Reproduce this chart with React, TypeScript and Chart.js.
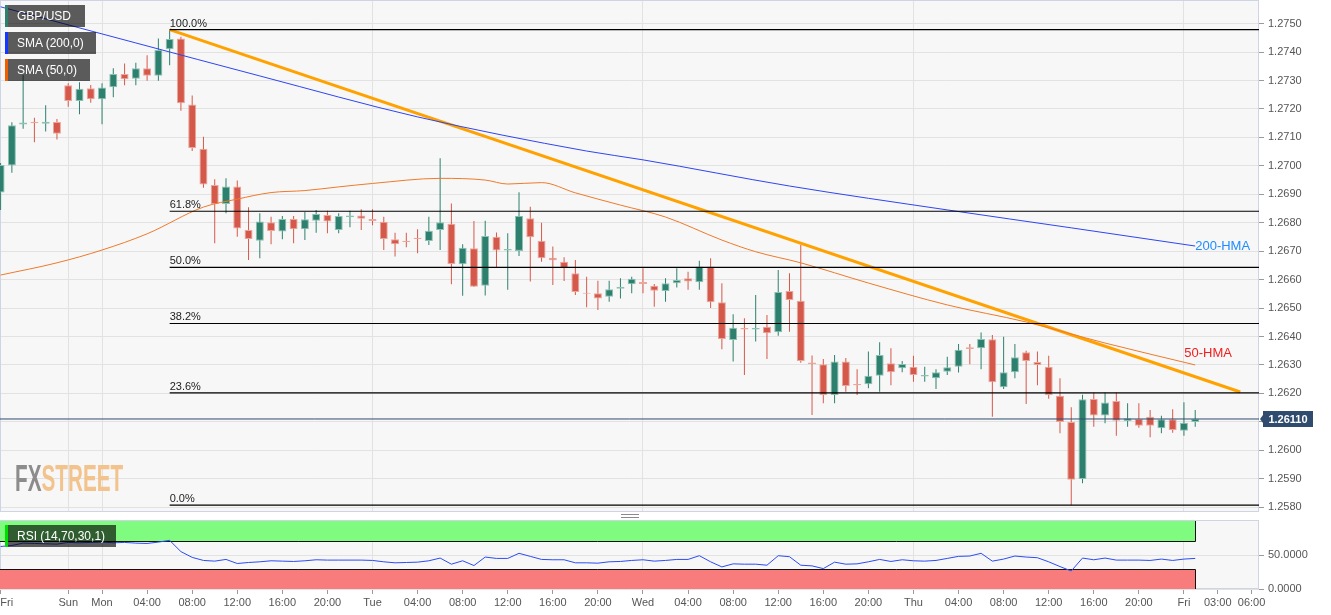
import React, { useEffect, useRef } from "react";
import { Chart, registerables } from "chart.js";

Chart.register(...registerables);
Chart.defaults.font.family = "'Liberation Sans', Arial, sans-serif";
Chart.defaults.font.size = 11;
Chart.defaults.color = "#555";

// ---------------- data ----------------
const symbol = "GBP/USD";

const opens = [
  1.26906, 1.27001, 1.27145, 1.27155, 1.27148, 1.27154, 1.27283, 1.27228, 1.27273, 1.27234,
  1.27276, 1.27323, 1.27306, 1.27343, 1.27317, 1.2741, 1.27448, 1.27216, 1.2706, 1.26933,
  1.26866, 1.26927, 1.26774, 1.26737, 1.26802, 1.26769, 1.26813, 1.26777, 1.26807, 1.26827,
  1.26774, 1.2682, 1.26825, 1.26813, 1.26803, 1.26742, 1.26737, 1.26747, 1.26736, 1.26774,
  1.26796, 1.26654, 1.2671, 1.26578, 1.26751, 1.26702, 1.26701, 1.26816, 1.26737, 1.26677,
  1.26663, 1.26622, 1.26554, 1.26552, 1.2654, 1.26568, 1.26584, 1.26592, 1.26578, 1.2656,
  1.26587, 1.26605, 1.26591, 1.26646, 1.2652, 1.26388, 1.2643, 1.26425, 1.26434, 1.26415,
  1.2656, 1.26526, 1.26309, 1.26302, 1.26194, 1.26312, 1.26233, 1.26232, 1.26262, 1.26306,
  1.26288, 1.26294, 1.26259, 1.26253, 1.26276, 1.26294, 1.26362, 1.26359, 1.2639, 1.26222,
  1.26274, 1.26345, 1.2631, 1.26294, 1.26192, 1.26099, 1.25899, 1.2618, 1.26122, 1.26173,
  1.26103, 1.2611, 1.26118, 1.26077, 1.26109, 1.26069, 1.26099,
];
const highs = [
  1.2701, 1.27153, 1.27319, 1.27169, 1.27213, 1.27165, 1.2729, 1.27294, 1.27284, 1.2729,
  1.27343, 1.2736, 1.27362, 1.27389, 1.27448, 1.27479, 1.27454, 1.27247, 1.27102, 1.26953,
  1.26956, 1.26948, 1.26854, 1.26833, 1.26821, 1.26824, 1.26824, 1.26838, 1.26845, 1.26842,
  1.26833, 1.26842, 1.26847, 1.26847, 1.26821, 1.26765, 1.26765, 1.26777, 1.26821, 1.27027,
  1.26868, 1.26724, 1.26806, 1.26807, 1.26766, 1.26763, 1.26907, 1.26856, 1.268, 1.26716,
  1.26679, 1.26669, 1.2661, 1.26596, 1.26596, 1.26605, 1.2661, 1.2664, 1.26585, 1.26605,
  1.2664, 1.26628, 1.26666, 1.26675, 1.26587, 1.26478, 1.26464, 1.26546, 1.26476, 1.26634,
  1.26622, 1.26722, 1.26333, 1.26321, 1.26335, 1.26324, 1.26285, 1.26347, 1.2638, 1.26359,
  1.26314, 1.26332, 1.26294, 1.26285, 1.26329, 1.26374, 1.26374, 1.26414, 1.26405, 1.26399,
  1.26374, 1.2635, 1.26347, 1.26332, 1.26253, 1.26151, 1.26195, 1.26203, 1.26203, 1.26203,
  1.26165, 1.26165, 1.26142, 1.26121, 1.26144, 1.26169, 1.26142,
];
const lows = [
  1.26845, 1.26976, 1.2713, 1.27083, 1.27121, 1.27093, 1.27208, 1.27181, 1.27222, 1.27146,
  1.27241, 1.27283, 1.27283, 1.27299, 1.27299, 1.27354, 1.27194, 1.27052, 1.26923, 1.26728,
  1.26833, 1.26751, 1.26669, 1.26675, 1.26724, 1.26742, 1.26728, 1.26739, 1.26765, 1.26763,
  1.26763, 1.26784, 1.26774, 1.26791, 1.26704, 1.26681, 1.26714, 1.26693, 1.26722, 1.26704,
  1.26584, 1.26543, 1.26574, 1.26544, 1.26643, 1.26564, 1.26683, 1.26593, 1.26663, 1.26581,
  1.26595, 1.26546, 1.26503, 1.26493, 1.26522, 1.26534, 1.26552, 1.26552, 1.26505, 1.26522,
  1.26572, 1.26564, 1.26564, 1.265, 1.26355, 1.26312, 1.26265, 1.26382, 1.26321, 1.26403,
  1.26417, 1.26308, 1.26124, 1.26165, 1.26165, 1.26206, 1.26194, 1.26218, 1.26206, 1.26229,
  1.26274, 1.26241, 1.26241, 1.26215, 1.26265, 1.26273, 1.26302, 1.26285, 1.26118, 1.26215,
  1.26253, 1.26163, 1.26229, 1.26181, 1.2606, 1.25807, 1.25884, 1.26083, 1.26095, 1.26051,
  1.26083, 1.26079, 1.26046, 1.2606, 1.26062, 1.26051, 1.26083,
];
const closes = [
  1.27003, 1.27143, 1.27152, 1.2715, 1.27155, 1.27113, 1.27228, 1.27271, 1.27234, 1.27275,
  1.27323, 1.27304, 1.27343, 1.27317, 1.27407, 1.27446, 1.2722, 1.27063, 1.26934, 1.26866,
  1.26927, 1.2678, 1.26743, 1.26804, 1.26771, 1.26813, 1.26777, 1.26812, 1.26831, 1.26804,
  1.26824, 1.26825, 1.26814, 1.26806, 1.26743, 1.26724, 1.26732, 1.26743, 1.26772, 1.26802,
  1.26655, 1.26712, 1.26575, 1.26753, 1.26702, 1.26708, 1.26824, 1.26749, 1.26675, 1.26668,
  1.2664, 1.26556, 1.2655, 1.26534, 1.26566, 1.26575, 1.26603, 1.26585, 1.26561, 1.26587,
  1.26599, 1.26593, 1.26646, 1.2652, 1.26391, 1.26431, 1.26425, 1.2643, 1.26411, 1.26556,
  1.26528, 1.26314, 1.26303, 1.26194, 1.26312, 1.26226, 1.26229, 1.26262, 1.26335, 1.26274,
  1.26303, 1.26265, 1.26265, 1.26274, 1.26292, 1.26353, 1.26356, 1.26391, 1.26239, 1.26274,
  1.26327, 1.26314, 1.263, 1.26194, 1.26099, 1.25896, 1.26179, 1.26122, 1.26168, 1.26104,
  1.26113, 1.26086, 1.26086, 1.26109, 1.26071, 1.26097, 1.2611,
];

// 200-HMA (blue) read at candle indices
const hma200Idx = [0, 12, 23, 37, 52, 57, 70, 84, 95, 106];
const hma200 = [1.27559, 1.27432, 1.27316, 1.27172, 1.27052, 1.27021, 1.26929, 1.26845, 1.26782, 1.26718];

// 50-HMA (thin orange) read at candle indices
const hma50Idx = [0, 5, 9, 13, 18, 21, 24, 27, 30, 33, 39, 43, 45, 48, 51, 55, 59, 64, 67, 71, 77, 84, 91, 98, 106];
const hma50 = [
  1.26616, 1.26659, 1.26704, 1.26761, 1.26855, 1.26883, 1.26906, 1.26913, 1.26926, 1.26938,
  1.26956, 1.2695, 1.26936, 1.26941, 1.26905, 1.26862, 1.2682, 1.26739, 1.26698, 1.26659,
  1.26588, 1.26511, 1.26451, 1.26377, 1.263,
];

// descending trend line (thick orange)
const trendIdx = [15, 110];
const trendVals = [1.27479, 1.26205];

const fibRatios = [1, 0.618, 0.5, 0.382, 0.236, 0];

const rsi = [
  62.5, 64, 67.5, 67, 66.5, 66, 68.5, 68, 68.5, 69,
  68, 68.5, 67.5, 67, 69, 71.5, 55, 46.5, 42, 41,
  43.5, 37.5, 39, 40, 41.5, 41, 40.5, 41.5, 43, 42.5,
  42.5, 42.5, 42.5, 42, 40, 38.5, 39, 39.5, 41.5, 45.5,
  36.5, 41.5, 34.5, 47, 45, 45, 52.5, 48, 43.5, 43,
  43, 38.5, 38.5, 38, 40, 40.5, 42, 43, 41, 42,
  43.5, 43.5, 49, 40, 32.5, 37, 36.5, 36.5, 35, 49,
  47.5, 35, 34, 30, 39.5, 36.5, 37, 40, 43.5, 40.5,
  43, 41.5, 41, 42, 45, 48, 48.5, 52.5, 41, 44,
  48.5, 47, 46, 40, 33, 26.5, 45.5, 43, 45.5, 42.5,
  42.5, 42.5, 42, 44, 42, 44, 45,
];
const rsiOversold = 30;
const rsiOverbought = 70;
const rsiTicks = [0, 50];

const priceTicks = [
  1.258, 1.259, 1.26, 1.261, 1.262, 1.263, 1.264, 1.265, 1.266,
  1.267, 1.268, 1.269, 1.27, 1.271, 1.272, 1.273, 1.274, 1.275,
];
const xTickIdx = [0, 6, 9, 13, 17, 21, 25, 29, 33, 37, 41, 45, 49, 53, 57, 61, 65, 69, 73, 77, 81, 85, 89, 93, 97, 101, 105, 108, 111];
const xTickLabels = [
  "Fri", "Sun", "Mon", "04:00", "08:00", "12:00", "16:00", "20:00",
  "Tue", "04:00", "08:00", "12:00", "16:00", "20:00",
  "Wed", "04:00", "08:00", "12:00", "16:00", "20:00",
  "Thu", "04:00", "08:00", "12:00", "16:00", "20:00",
  "Fri", "03:00", "06:00",
];

// ---------------- layout / style ----------------
const W = 1331;
const AXIS_W = 72;
const X_MIN = -0.053;
const X_MAX = 111.66;
const Y_MIN = 1.25783;
const Y_MAX = 1.27583;
const RSI_MAX = 101.5;

const UP = "#2e806e";
const DOWN = "#d5594b";
const UP_EDGE = "#8cc2b2";
const DOWN_EDGE = "#eba79c";
const PLOT_BG = "#f7f7f7";
const PLOT_BORDER = "#cdd5e4";
const GRID = "#e2e2e2";
const PRICE_COLOR = "#2f4b6e";

const isDayTick = (v: any) => {
  const k = xTickIdx.indexOf(v);
  return k >= 0 && xTickLabels[k].indexOf(":") < 0;
};

const panelPlugin = {
  id: "panel",
  beforeDraw(chart: any) {
    const { ctx, chartArea: a } = chart;
    ctx.save();
    ctx.fillStyle = PLOT_BG;
    ctx.fillRect(a.left, a.top, a.right - a.left, a.bottom - a.top);
    ctx.restore();
  },
  beforeDatasetsDraw(chart: any) {
    const { ctx, chartArea: a } = chart;
    ctx.save();
    ctx.strokeStyle = PLOT_BORDER;
    ctx.lineWidth = 1;
    ctx.strokeRect(a.left + 0.5, a.top + 0.5, a.right - a.left - 1, a.bottom - a.top - 1);
    ctx.restore();
  },
};

const N = closes.length;
const idxs = closes.map((_, i) => i);
const up = idxs.map((i) => closes[i] >= opens[i]);
const fibHigh = Math.max(...highs);
const fibLow = Math.min(...lows);
const fibStart = highs.indexOf(fibHigh);
const fibLevels = fibRatios.map((r) => fibLow + r * (fibHigh - fibLow));
const lastClose = closes[N - 1];

const mainLabels = {
  id: "mainLabels",
  afterDatasetsDraw(chart: any) {
    const { ctx, scales } = chart;
    const xs = scales.x;
    const ys = scales.y;
    ctx.save();
    // fibonacci labels
    ctx.font = "11px 'Liberation Sans', Arial, sans-serif";
    ctx.fillStyle = "#222";
    ctx.textAlign = "left";
    ctx.textBaseline = "alphabetic";
    fibRatios.forEach((r, k) => {
      const px = xs.getPixelForValue(fibStart);
      const py = ys.getPixelForValue(fibLevels[k]);
      ctx.fillText((r * 100).toFixed(1) + "%", px, py - 3);
    });
    // HMA labels
    ctx.font = "13px 'Liberation Sans', Arial, sans-serif";
    ctx.textBaseline = "middle";
    const bx = xs.getPixelForValue(hma200Idx[hma200Idx.length - 1]);
    const by = ys.getPixelForValue(hma200[hma200.length - 1]);
    ctx.fillStyle = "#1e8cff";
    ctx.fillText("200-HMA", bx, by);
    const ox = xs.getPixelForValue(hma50Idx[hma50Idx.length - 1]);
    const oy = ys.getPixelForValue(hma50[hma50.length - 1]);
    ctx.fillStyle = "#f21d1d";
    ctx.fillText("50-HMA", ox - 11, oy - 12);
    ctx.restore();
  },
  afterDraw(chart: any) {
    const { ctx, scales, chartArea: a } = chart;
    const py = Math.round(scales.y.getPixelForValue(lastClose));
    const x0 = a.right + 4;
    ctx.save();
    ctx.fillStyle = PRICE_COLOR;
    ctx.beginPath();
    ctx.moveTo(a.right + 1, py);
    ctx.lineTo(x0, py - 4);
    ctx.lineTo(x0, py - 8);
    ctx.lineTo(x0 + 50, py - 8);
    ctx.lineTo(x0 + 50, py + 8);
    ctx.lineTo(x0, py + 8);
    ctx.lineTo(x0, py + 4);
    ctx.closePath();
    ctx.fill();
    ctx.fillStyle = "#fff";
    ctx.font = "bold 11px 'Liberation Sans', Arial, sans-serif";
    ctx.textAlign = "center";
    ctx.textBaseline = "middle";
    ctx.fillText(lastClose.toFixed(5), x0 + 25, py + 0.5);
    ctx.restore();
  },
};

const rsiPlugin = {
  id: "rsiBands",
  beforeDatasetsDraw(chart: any) {
    const { ctx, scales, chartArea: a } = chart;
    const xs = scales.x;
    const ys = scales.y;
    const x0 = a.left;
    const x1 = Math.round(xs.getPixelForValue(N - 1)) + 0.5;
    const yTop = ys.getPixelForValue(100);
    const y70 = Math.round(ys.getPixelForValue(rsiOverbought)) + 0.5;
    const y30 = Math.round(ys.getPixelForValue(rsiOversold)) + 0.5;
    const y0 = ys.getPixelForValue(0);
    ctx.save();
    ctx.fillStyle = "#7ffb7f";
    ctx.fillRect(x0, yTop, x1 - x0, y70 - yTop);
    ctx.fillStyle = "#f97c7c";
    ctx.fillRect(x0, y30, x1 - x0, y0 - y30);
    ctx.strokeStyle = "#111";
    ctx.lineWidth = 1;
    ctx.beginPath();
    ctx.moveTo(x0, y70);
    ctx.lineTo(x1, y70);
    ctx.lineTo(x1, yTop);
    ctx.moveTo(x0, y30);
    ctx.lineTo(x1, y30);
    ctx.lineTo(x1, y0);
    ctx.stroke();
    ctx.restore();
  },
};

const xTicksAfterBuild = (s: any) => {
  s.ticks = xTickIdx.map((v) => ({ value: v }));
};

function mainConfig(): any {
  const lineDs = (data: any[], color: string, width: number, extra: any = {}) => ({
    type: "line",
    data,
    borderColor: color,
    borderWidth: width,
    pointRadius: 0,
    fill: false,
    order: 1,
    ...extra,
  });
  const datasets: any[] = [
    {
      type: "bar",
      data: idxs.map((i) => ({ x: i, y: [lows[i], highs[i]] })),
      backgroundColor: up.map((u) => (u ? UP : DOWN)),
      borderWidth: 0,
      grouped: false,
      barThickness: 1,
      maxBarThickness: 1.3,
      inflateAmount: 0,
      order: 3,
    },
    {
      type: "bar",
      data: idxs.map((i) => ({ x: i, y: [opens[i], closes[i]] })),
      backgroundColor: up.map((u) => (u ? UP : DOWN)),
      borderColor: up.map((u) => (u ? UP_EDGE : DOWN_EDGE)),
      borderWidth: 1,
      borderSkipped: false,
      grouped: false,
      barThickness: 8,
      maxBarThickness: 8,
      inflateAmount: 0,
      order: 2,
    },
    ...fibLevels.map((lv) =>
      lineDs([{ x: fibStart, y: lv }, { x: X_MAX, y: lv }], "#000", 1.2)
    ),
    lineDs([{ x: X_MIN, y: lastClose }, { x: X_MAX, y: lastClose }], PRICE_COLOR, 1),
    lineDs(hma200Idx.map((x, k) => ({ x, y: hma200[k] })), "#2f45f2", 1, {
      cubicInterpolationMode: "monotone",
    }),
    lineDs(hma50Idx.map((x, k) => ({ x, y: hma50[k] })), "#f07a2a", 1, {
      cubicInterpolationMode: "monotone",
    }),
    lineDs(trendIdx.map((x, k) => ({ x, y: trendVals[k] })), "#ffa200", 3),
  ];
  return {
    type: "bar",
    data: { datasets },
    options: {
      responsive: false,
      animation: false,
      devicePixelRatio: 1,
      events: [],
      layout: { padding: { top: 0, left: 0, right: 0, bottom: 6 } },
      plugins: { legend: { display: false }, tooltip: { enabled: false } },
      scales: {
        x: {
          type: "linear",
          min: X_MIN,
          max: X_MAX,
          offset: false,
          afterBuildTicks: xTicksAfterBuild,
          afterFit: (s: any) => {
            s.height = 0;
            s.paddingLeft = 0;
            s.paddingRight = 0;
          },
          ticks: { display: false },
          grid: {
            offset: false,
            drawTicks: false,
            color: (c: any) => (c.tick && isDayTick(c.tick.value) ? GRID : "rgba(0,0,0,0)"),
          },
          border: { display: false },
        },
        y: {
          type: "linear",
          position: "right",
          min: Y_MIN,
          max: Y_MAX,
          beginAtZero: false,
          afterBuildTicks: (s: any) => {
            s.ticks = priceTicks.map((v) => ({ value: v }));
          },
          afterFit: (s: any) => {
            s.width = AXIS_W;
            s.paddingTop = 0;
            s.paddingBottom = 0;
          },
          ticks: {
            callback: (v: any) => Number(v).toFixed(4),
            color: "#555",
            font: { size: 11 },
            padding: 4,
          },
          grid: { color: GRID, tickColor: "#9a9a9a", tickLength: 5 },
          border: { display: false },
        },
      },
    },
    plugins: [panelPlugin, mainLabels],
  };
}

function rsiConfig(): any {
  return {
    type: "line",
    data: {
      datasets: [
        {
          data: idxs.map((i) => ({ x: i, y: rsi[i] })),
          borderColor: "#2b4cf5",
          borderWidth: 1,
          pointRadius: 0,
          fill: false,
        },
      ],
    },
    options: {
      responsive: false,
      animation: false,
      devicePixelRatio: 1,
      events: [],
      layout: { padding: { top: 1, left: 0, right: 0, bottom: 0 } },
      plugins: { legend: { display: false }, tooltip: { enabled: false } },
      scales: {
        x: {
          type: "linear",
          min: X_MIN,
          max: X_MAX,
          offset: false,
          afterBuildTicks: xTicksAfterBuild,
          afterFit: (s: any) => {
            s.height = 26;
            s.paddingLeft = 0;
            s.paddingRight = 0;
          },
          ticks: {
            autoSkip: false,
            maxRotation: 0,
            minRotation: 0,
            color: "#555",
            font: { size: 11 },
            padding: 2,
            callback: (_v: any, i: number) =>
              i === 0 ? "\u00a0\u00a0\u00a0\u00a0" + xTickLabels[0] : xTickLabels[i],
          },
          grid: {
            offset: false,
            tickLength: 5,
            tickColor: "#9a9a9a",
            color: (c: any) => (c.tick && isDayTick(c.tick.value) ? GRID : "rgba(0,0,0,0)"),
          },
          border: { display: false },
        },
        y: {
          type: "linear",
          position: "right",
          min: 0,
          max: RSI_MAX,
          afterBuildTicks: (s: any) => {
            s.ticks = rsiTicks.map((v) => ({ value: v }));
          },
          afterFit: (s: any) => {
            s.width = AXIS_W;
            s.paddingTop = 0;
            s.paddingBottom = 0;
          },
          ticks: {
            callback: (v: any) => Number(v).toFixed(4),
            color: "#555",
            font: { size: 11 },
            padding: 4,
          },
          grid: { color: GRID, tickColor: "#9a9a9a", tickLength: 5 },
          border: { display: false },
        },
      },
    },
    plugins: [panelPlugin, rsiPlugin],
  };
}

const legendBox = (top: number, width: number, bar: string, text: string, key: string) => (
  <div
    key={key}
    style={{
      position: "absolute",
      left: 5,
      top,
      width,
      height: 22,
      boxSizing: "border-box",
      borderLeft: `3px solid ${bar}`,
      background: "rgba(0,0,0,0.63)",
      color: "#fff",
      fontSize: 12,
      lineHeight: "22px",
      paddingLeft: 9,
      whiteSpace: "nowrap",
    }}
  >
    {text}
  </div>
);

export default function App() {
  const mainRef = useRef<HTMLCanvasElement>(null);
  const rsiRef = useRef<HTMLCanvasElement>(null);

  useEffect(() => {
    const main = new Chart(mainRef.current as HTMLCanvasElement, mainConfig());
    const r = new Chart(rsiRef.current as HTMLCanvasElement, rsiConfig());
    return () => {
      main.destroy();
      r.destroy();
    };
  }, []);

  return (
    <div
      style={{
        position: "fixed",
        left: 0,
        top: 0,
        width: W,
        height: 615,
        background: "#fff",
        overflow: "hidden",
        fontFamily: "'Liberation Sans', Arial, sans-serif",
      }}
    >
      <canvas
        ref={mainRef}
        width={W}
        height={518}
        style={{ position: "absolute", left: 0, top: 0, width: W, height: 518 }}
      />
      <canvas
        ref={rsiRef}
        width={W}
        height={96}
        style={{ position: "absolute", left: 0, top: 519, width: W, height: 96 }}
      />
      <div
        style={{
          position: "absolute",
          left: 15,
          top: 460,
          fontWeight: "bold",
          fontSize: 37,
          lineHeight: "37px",
          transform: "scaleX(0.56)",
          transformOrigin: "0 0",
          whiteSpace: "nowrap",
        }}
      >
        <span style={{ color: "#8c8c8c" }}>FX</span>
        <span style={{ color: "#f2c38d" }}>STREET</span>
      </div>
      {legendBox(5, 80, UP, symbol, "l1")}
      {legendBox(32, 91, "#1238ff", "SMA (200,0)", "l2")}
      {legendBox(59, 85, "#f06000", "SMA (50,0)", "l3")}
      {legendBox(525, 111, "#00e000", "RSI (14,70,30,1)", "l4")}
      <div
        style={{
          position: "absolute",
          left: 621,
          top: 514,
          width: 18,
          height: 4,
          boxSizing: "border-box",
          borderTop: "1px solid #8a8a8a",
          borderBottom: "1px solid #8a8a8a",
        }}
      />
    </div>
  );
}
